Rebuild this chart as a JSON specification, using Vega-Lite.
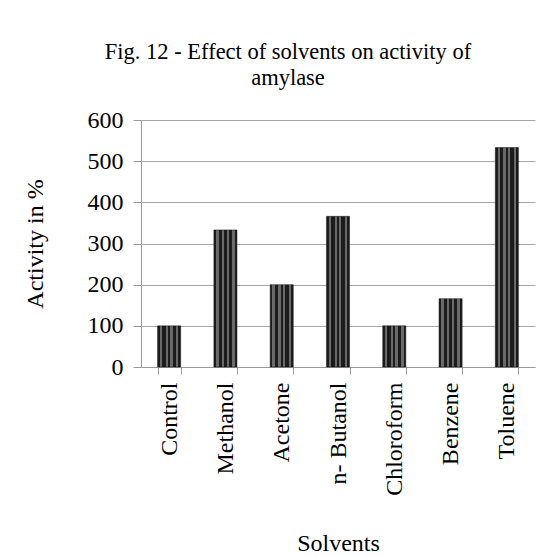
{
  "$schema": "https://vega.github.io/schema/vega-lite/v6.json",
  "width": 394,
  "height": 247,
  "autosize": {"type": "none"},
  "padding": {"left": 141, "top": 120, "right": 25, "bottom": 190},
  "background": "white",
  "title": {
    "text": ["Fig. 12 - Effect of solvents on activity of", "amylase"],
    "font": "Liberation Serif",
    "fontSize": 22.5,
    "fontWeight": "normal",
    "color": "black",
    "anchor": "middle",
    "frame": "group",
    "dx": -50,
    "lineHeight": 26,
    "baseline": "bottom",
    "offset": -4
  },
  "data": {
    "values": [
      {"solvent": "Control", "activity": 100},
      {"solvent": "Methanol", "activity": 333},
      {"solvent": "Acetone", "activity": 200},
      {"solvent": "n- Butanol", "activity": 366},
      {"solvent": "Chloroform", "activity": 100},
      {"solvent": "Benzene", "activity": 166},
      {"solvent": "Toluene", "activity": 533}
    ]
  },
  "mark": {
    "type": "bar",
    "fill": {
      "gradient": "linear",
      "x1": 0, "x2": 1, "y1": 0, "y2": 0,
      "stops": [
        {"offset": 0, "color": "#1c1c1c"},
        {"offset": 0.1, "color": "#1c1c1c"},
        {"offset": 0.1, "color": "#6a6a6a"},
        {"offset": 0.2, "color": "#6a6a6a"},
        {"offset": 0.2, "color": "#1c1c1c"},
        {"offset": 0.35, "color": "#1c1c1c"},
        {"offset": 0.35, "color": "#6a6a6a"},
        {"offset": 0.45, "color": "#6a6a6a"},
        {"offset": 0.45, "color": "#1c1c1c"},
        {"offset": 0.55, "color": "#1c1c1c"},
        {"offset": 0.55, "color": "#6a6a6a"},
        {"offset": 0.65, "color": "#6a6a6a"},
        {"offset": 0.65, "color": "#1c1c1c"},
        {"offset": 0.8, "color": "#1c1c1c"},
        {"offset": 0.8, "color": "#6a6a6a"},
        {"offset": 0.9, "color": "#6a6a6a"},
        {"offset": 0.9, "color": "#1c1c1c"},
        {"offset": 1, "color": "#1c1c1c"}
      ]
    },
    "stroke": "#111111",
    "strokeWidth": 0.5
  },
  "encoding": {
    "x": {
      "field": "solvent",
      "type": "nominal",
      "sort": null,
      "scale": {"paddingInner": 0.59, "paddingOuter": 0.295},
      "axis": {
        "title": "Solvents",
        "titleFont": "Liberation Serif",
        "titleFontSize": 24,
        "titleFontWeight": "normal",
        "titleColor": "black",
        "titleX": 197,
        "titleY": 183,
        "titleAlign": "center",
        "titleBaseline": "alphabetic",
        "labelFont": "Liberation Serif",
        "labelFontSize": 24,
        "labelColor": "black",
        "labelAngle": -90,
        "labelAlign": "right",
        "labelBaseline": "middle",
        "labelPadding": 8,
        "tickBand": "extent",
        "tickSize": 7,
        "tickColor": "#999999",
        "domainColor": "#999999",
        "grid": false
      }
    },
    "y": {
      "field": "activity",
      "type": "quantitative",
      "scale": {"domain": [0, 600]},
      "axis": {
        "title": "Activity in %",
        "titleFont": "Liberation Serif",
        "titleFontSize": 24,
        "titleFontWeight": "normal",
        "titleColor": "black",
        "titleAngle": -90,
        "titleX": -106,
        "titleY": 123.5,
        "titleAlign": "center",
        "titleBaseline": "middle",
        "values": [0, 100, 200, 300, 400, 500, 600],
        "labelFont": "Liberation Serif",
        "labelFontSize": 24,
        "labelColor": "black",
        "labelPadding": 10,
        "tickSize": 8,
        "tickColor": "#999999",
        "domainColor": "#999999",
        "grid": true,
        "gridColor": "#a6a6a6"
      }
    }
  },
  "config": {"view": {"stroke": null}}
}
